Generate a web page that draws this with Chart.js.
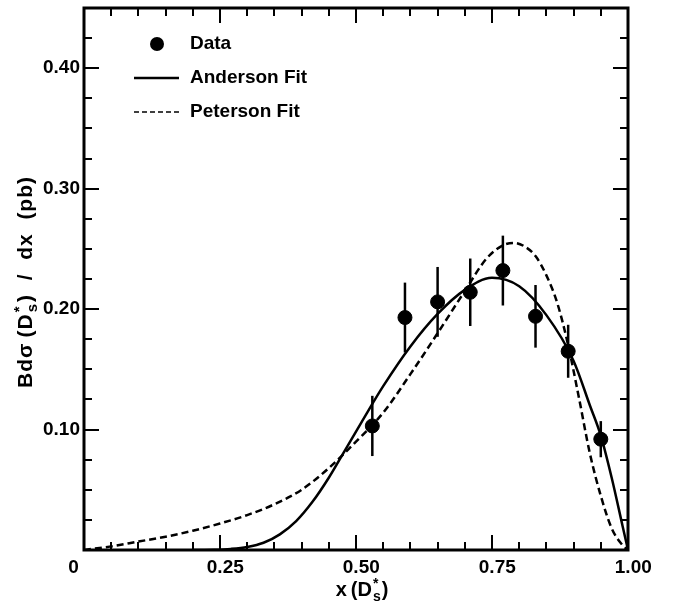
<!DOCTYPE html>
<html>
<head>
<meta charset="utf-8">
<script src="https://cdn.jsdelivr.net/npm/chart.js@4.4.1/dist/chart.umd.min.js"></script>
<style>
  html, body { margin: 0; padding: 0; background: #fff; }
</style>
</head>
<body>
<canvas id="c" width="678" height="602"></canvas>
<script>
// measured points (bin centres, values, symmetric errors)
var binX    = [0.53, 0.59, 0.65, 0.71, 0.77, 0.83, 0.89, 0.95];
var dataY   = [0.103, 0.193, 0.206, 0.214, 0.232, 0.194, 0.165, 0.092];
var dataErr = [0.025, 0.029, 0.029, 0.028, 0.029, 0.026, 0.022, 0.015];

// Anderson fit (solid)
var andersonX = [0.20, 0.24, 0.27, 0.30, 0.33, 0.36, 0.39, 0.42, 0.45, 0.48, 0.51, 0.55, 0.60, 0.65, 0.70, 0.75, 0.80, 0.85, 0.90, 0.93, 0.95, 0.97, 0.99, 1.00];
var andersonY = [0.000, 0.0002, 0.0009, 0.0025, 0.006, 0.013, 0.024, 0.040, 0.060, 0.083, 0.106, 0.136, 0.169, 0.196, 0.216, 0.226, 0.219, 0.195, 0.157, 0.120, 0.095, 0.060, 0.020, 0.000];

// Peterson fit (dashed)
var petersonX = [0.00, 0.05, 0.10, 0.15, 0.20, 0.25, 0.30, 0.35, 0.40, 0.45, 0.50, 0.55, 0.60, 0.65, 0.70, 0.74, 0.77, 0.79, 0.81, 0.83, 0.85, 0.87, 0.89, 0.91, 0.93, 0.95, 0.97, 0.99, 1.00];
var petersonY = [0.000, 0.003, 0.007, 0.011, 0.016, 0.022, 0.029, 0.038, 0.050, 0.068, 0.090, 0.114, 0.146, 0.180, 0.215, 0.242, 0.253, 0.255, 0.252, 0.244, 0.228, 0.205, 0.170, 0.126, 0.080, 0.045, 0.018, 0.004, 0.000];

var xMajor = [0, 0.25, 0.5, 0.75, 1.0];
var yMajor = [0.1, 0.2, 0.3, 0.4];
var xMinorStep = 0.05;
var yMinorStep = 0.025;

function pts(xs, ys) {
  return xs.map(function (x, i) { return { x: x, y: ys[i] }; });
}

var FONT = 'Liberation Sans, Arial, sans-serif';

// draw text with D*_s style sup/sub pieces, returns width
function richText(ctx, parts, x, y, size, doDraw) {
  var cx = x;
  var small = Math.round(size * 0.7);
  parts.forEach(function (p) {
    if (p.ss) {
      ctx.font = 'bold ' + small + 'px ' + FONT;
      var w1 = ctx.measureText(p.sup).width;
      var w2 = ctx.measureText(p.sub).width;
      if (doDraw) {
        ctx.fillText(p.sup, cx + 1, y - size * 0.4);
        ctx.fillText(p.sub, cx + 1, y + size * 0.25);
      }
      cx += Math.max(w1, w2) + 2;
    } else {
      ctx.font = 'bold ' + size + 'px ' + FONT;
      if (doDraw) ctx.fillText(p.t, cx, y);
      cx += ctx.measureText(p.t).width;
    }
  });
  return cx - x;
}

function noPad(s) {
  s.paddingTop = 0; s.paddingBottom = 0; s.paddingLeft = 0; s.paddingRight = 0;
}

var decor = {
  id: 'decor',
  beforeDatasetsDraw: function (chart) {
    var ctx = chart.ctx, xs = chart.scales.x, ys = chart.scales.y;
    ctx.save();
    ctx.strokeStyle = '#000';
    ctx.lineWidth = 2.5;
    binX.forEach(function (x, i) {
      var px = xs.getPixelForValue(x);
      ctx.beginPath();
      ctx.moveTo(px, ys.getPixelForValue(dataY[i] - dataErr[i]));
      ctx.lineTo(px, ys.getPixelForValue(dataY[i] + dataErr[i]));
      ctx.stroke();
    });
    ctx.restore();
  },
  afterDraw: function (chart) {
    var ctx = chart.ctx, xs = chart.scales.x, ys = chart.scales.y;
    var a = chart.chartArea;
    ctx.save();
    ctx.strokeStyle = '#000';
    ctx.fillStyle = '#000';

    // ticks on all four sides
    ctx.lineWidth = 2;
    ctx.beginPath();
    for (var i = 0; i <= 20; i++) {
      var v = i * xMinorStep;
      var px = Math.round(xs.getPixelForValue(v));
      var len = (i % 5 === 0) ? 15 : 8;
      ctx.moveTo(px, a.bottom); ctx.lineTo(px, a.bottom - len);
      ctx.moveTo(px, a.top); ctx.lineTo(px, a.top + len);
    }
    for (var j = 0; j <= 18; j++) {
      var vy = j * yMinorStep;
      var py = Math.round(ys.getPixelForValue(vy));
      var l2 = (j % 4 === 0) ? 15 : 8;
      ctx.moveTo(a.left, py); ctx.lineTo(a.left + l2, py);
      ctx.moveTo(a.right, py); ctx.lineTo(a.right - l2, py);
    }
    ctx.stroke();

    // frame
    ctx.lineWidth = 3;
    ctx.strokeRect(a.left, a.top, a.right - a.left, a.bottom - a.top);

    // legend
    ctx.font = 'bold 19px ' + FONT;
    ctx.textBaseline = 'middle';
    ctx.textAlign = 'left';
    ctx.beginPath();
    ctx.arc(157, 44, 7, 0, Math.PI * 2);
    ctx.fill();
    ctx.fillText('Data', 190, 44);
    ctx.lineWidth = 2.5;
    ctx.beginPath();
    ctx.moveTo(134, 78); ctx.lineTo(179, 78);
    ctx.stroke();
    ctx.fillText('Anderson Fit', 190, 78);
    ctx.lineWidth = 1.5;
    ctx.setLineDash([5, 3]);
    ctx.beginPath();
    ctx.moveTo(134, 112); ctx.lineTo(179, 112);
    ctx.stroke();
    ctx.setLineDash([]);
    ctx.fillText('Peterson Fit', 190, 112);

    // x axis title
    ctx.textBaseline = 'alphabetic';
    var xt = [{ t: 'x\u2009(D' }, { ss: true, sup: '*', sub: 's' }, { t: ')' }];
    var wx = richText(ctx, xt, 0, 0, 20, false);
    richText(ctx, xt, 362 - wx / 2, 596, 20, true);

    // y axis title
    var yt = [{ t: 'Bd\u03c3\u2009(D' }, { ss: true, sup: '*', sub: 's' }, { t: ')  /  dx  (pb)' }];
    ctx.letterSpacing = '1px';
    var wy = richText(ctx, yt, 0, 0, 21, false);
    ctx.translate(32, 282);
    ctx.rotate(-Math.PI / 2);
    richText(ctx, yt, -wy / 2, 0, 21, true);
    ctx.restore();
  }
};

new Chart(document.getElementById('c'), {
  type: 'scatter',
  data: {
    datasets: [
      {
        label: 'Data',
        data: pts(binX, dataY),
        backgroundColor: '#000',
        borderColor: '#000',
        pointRadius: 7,
        pointHoverRadius: 7
      },
      {
        label: 'Anderson Fit',
        type: 'line',
        data: pts(andersonX, andersonY),
        borderColor: '#000',
        borderWidth: 2.5,
        pointRadius: 0,
        cubicInterpolationMode: 'monotone',
        fill: false
      },
      {
        label: 'Peterson Fit',
        type: 'line',
        data: pts(petersonX, petersonY),
        borderColor: '#000',
        borderWidth: 2.5,
        borderDash: [7, 4],
        pointRadius: 0,
        cubicInterpolationMode: 'monotone',
        fill: false
      }
    ]
  },
  options: {
    responsive: false,
    animation: false,
    devicePixelRatio: 1,
    layout: { padding: { left: 0, top: 7, right: 50, bottom: 0 } },
    plugins: { legend: { display: false }, tooltip: { enabled: false } },
    scales: {
      x: {
        type: 'linear',
        min: 0, max: 1,
        border: { display: false },
        grid: { display: false, drawTicks: false },
        afterBuildTicks: function (s) { s.ticks = xMajor.map(function (v) { return { value: v }; }); },
        afterFit: function (s) { s.height = 52; noPad(s); },
        ticks: {
          color: '#000',
          padding: 6,
          maxRotation: 0,
          autoSkip: false,
          font: { family: FONT, weight: 'bold', size: 19 },
          callback: function (v) { return v === 0 ? '0    ' : '  ' + v.toFixed(2); }
        }
      },
      y: {
        type: 'linear',
        min: 0, max: 0.45,
        border: { display: false },
        grid: { display: false, drawTicks: false },
        afterBuildTicks: function (s) { s.ticks = yMajor.map(function (v) { return { value: v }; }); },
        afterFit: function (s) { s.width = 84; noPad(s); },
        ticks: {
          color: '#000',
          padding: 4,
          font: { family: FONT, weight: 'bold', size: 19 },
          callback: function (v) { return v.toFixed(2); }
        }
      }
    }
  },
  plugins: [decor]
});
</script>
</body>
</html>
